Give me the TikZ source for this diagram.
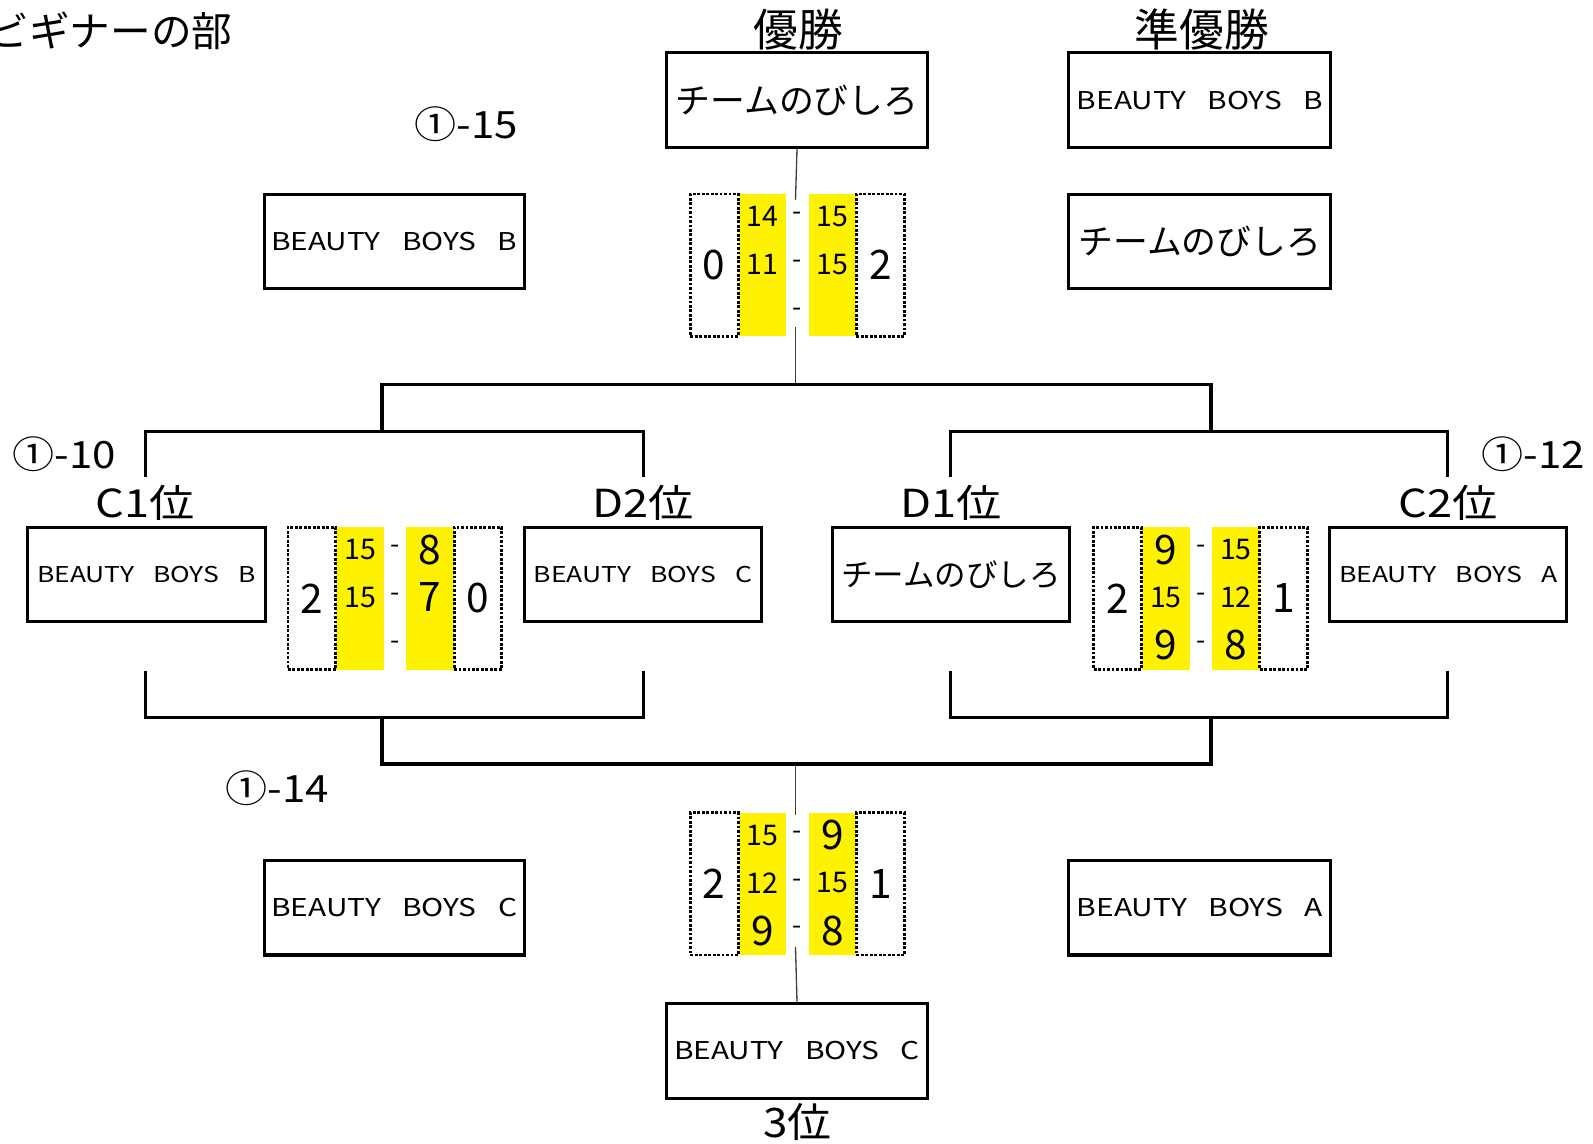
\documentclass[tikz,border=0pt]{standalone}
\usepackage{fontspec}
\setmainfont{Noto Sans CJK JP}
\usepackage{graphicx}
\newcommand\fs[1]{\fontsize{#1}{#1}\selectfont}
\newcommand\scv[1]{\ifnum#1<10 \fs{40}\else\fs{28}\fi #1}
\newcommand\bigbb[1]{\resizebox{242pt}{18pt}{BEAUTY\hspace{0.72em}BOYS\hspace{0.72em}#1}}
\newcommand\smallbb[1]{\resizebox{215pt}{16pt}{BEAUTY\hspace{0.72em}BOYS\hspace{0.72em}#1}}
\newcommand\bigjp{\resizebox{239pt}{!}{チームのびしろ}}
\newcommand\smalljp{\resizebox{216pt}{!}{チームのびしろ}}
\newcommand\matchno[1]{\scalebox{1.12}[1]{\fs{37}①-#1}}
\newcommand\rank[1]{\scalebox{1.17}[1]{\fs{38}#1位}}
\tikzset{
  team/.style={draw, line width=3pt, inner sep=0pt, minimum height=93pt},
  bigteam/.style={team, minimum width=257pt},
  smallteam/.style={team, minimum width=234pt},
  ycell/.style={fill=yellow, minimum width=47pt, minimum height=140pt, inner sep=0pt},
  dcell/.style={draw, line width=2.8pt, dash pattern=on 2.8pt off 1.6pt, minimum width=47pt, minimum height=140pt, inner sep=0pt},
  bracket/.style={line width=3pt},
  thinline/.style={draw=black!75, line width=1.3pt},
  lab/.style={inner sep=0pt},
}
% #1 name, #2 cx, #3 ytop, #4 left wins, #5 right wins, #6 left scores, #7 right scores
\newcommand\scoreblock[7]{%
  \node[ycell] (#1yl) at (#2-34.5,#3+70) {};
  \node[ycell] (#1yr) at (#2+34.5,#3+70) {};
  \node[dcell] (#1wl) at (#2-82,#3+70) {\fs{40}#4};
  \node[dcell] (#1wr) at (#2+81.5,#3+70) {\fs{40}#5};
  \foreach \r in {1,2,3} {\node[lab] (#1d\r) at (#2,#3-25+47*\r) {\fs{26}-};}
  \foreach \r/\v in {#6} {\node[lab] (#1l\r) at (#2-34.5,#3-25+47*\r) {\scv{\v}};}
  \foreach \r/\v in {#7} {\node[lab] (#1r\r) at (#2+34.5,#3-25+47*\r) {\scv{\v}};}
}
\begin{document}
\begin{tikzpicture}[x=1pt,y=-1pt]
\fill[white] (0,0) rectangle (1568,1126);
\useasboundingbox (0,0) rectangle (1568,1126);

% headings
\node[lab, anchor=east] (title) at (229,30) {\fs{40}ビギナーの部};
\node[lab] (yusho) at (786,29) {\fs{44}優勝};
\node[lab] (junyusho) at (1183,29) {\fs{44}準優勝};
\node[lab, anchor=west] (m15) at (408,122) {\matchno{15}};
\node[lab, anchor=west] (m10) at (12,447) {\matchno{10}};
\node[lab, anchor=west] (m12) at (1458,447) {\matchno{12}};
\node[lab, anchor=west] (m14) at (222,776) {\matchno{14}};
\node[lab] (lc1) at (143,495) {\rank{C1}};
\node[lab] (ld2) at (633,495) {\rank{D2}};
\node[lab] (ld1) at (936,495) {\rank{D1}};
\node[lab] (lc2) at (1425,495) {\rank{C2}};
\node[lab] (l3) at (785,1104) {\scalebox{1.08}[1]{\fs{40}3位}};

% team boxes
\node[bigteam] (win) at (784.5,98.5) {\bigjp};
\node[bigteam, minimum width=258pt] (run) at (1181,98.5) {\bigbb{B}};
\node[bigteam, minimum width=256pt] (fL) at (388,237.5) {\bigbb{B}};
\node[bigteam, minimum width=258pt] (fR) at (1181,237.5) {\bigjp};
\node[smallteam] (c1) at (144,565.5) {\smallbb{B}};
\node[smallteam] (d2) at (633,565.5) {\smallbb{C}};
\node[smallteam] (d1) at (936,565.5) {\smalljp};
\node[smallteam, minimum width=233pt] (c2) at (1425.5,565.5) {\smallbb{A}};
\node[bigteam, minimum width=256pt] (tL) at (388,893.5) {\bigbb{C}};
\node[bigteam, minimum width=258pt] (tR) at (1181,893.5) {\bigbb{A}};
\node[bigteam] (third) at (784.5,1034.5) {\bigbb{C}};

% score blocks
\scoreblock{fin}{785}{191}{0}{2}{1/14,2/11}{1/15,2/15}
\scoreblock{sml}{389}{519}{2}{0}{1/15,2/15}{1/8,2/7}
\scoreblock{smr}{1182}{519}{2}{1}{1/9,2/15,3/9}{1/15,2/12,3/8}
\scoreblock{trd}{785}{800}{2}{1}{1/15,2/12,3/9}{1/9,2/15,3/8}

% connector points
\coordinate (finin) at (783,197);
\coordinate (finout) at (783,322);
\coordinate (topL) at (376,378);
\coordinate (topM) at (783,378);
\coordinate (topR) at (1192,378);
\coordinate (subL) at (376,425);
\coordinate (subR) at (1192,425);
\coordinate (c1up) at (143,470);
\coordinate (d2up) at (633,470);
\coordinate (d1up) at (936,470);
\coordinate (c2up) at (1425,470);
\coordinate (c1dn) at (143,660);
\coordinate (d2dn) at (633,660);
\coordinate (d1dn) at (936,660);
\coordinate (c2dn) at (1425,660);
\coordinate (lowL) at (376,706);
\coordinate (lowR) at (1192,706);
\coordinate (botL) at (376,752);
\coordinate (botM) at (783,752);
\coordinate (botR) at (1192,752);
\coordinate (trdin) at (783,802);
\coordinate (trdout) at (783,932);

% thin lines
\draw[thinline] (win.south) -- (finin);
\draw[thinline] (finout) -- (topM);
\draw[thinline] (botM) -- (trdin);
\draw[thinline] (trdout) -- (third.north);

% brackets
\draw[bracket] (subL) -- (topL) -- (topR) -- (subR);
\draw[bracket] (c1up) |- (subL) -| (d2up);
\draw[bracket] (d1up) |- (subR) -| (c2up);
\draw[bracket] (c1dn) |- (lowL) -| (d2dn);
\draw[bracket] (d1dn) |- (lowR) -| (c2dn);
\draw[bracket] (lowL) -- (botL) -- (botR) -- (lowR);
\end{tikzpicture}
\end{document}
